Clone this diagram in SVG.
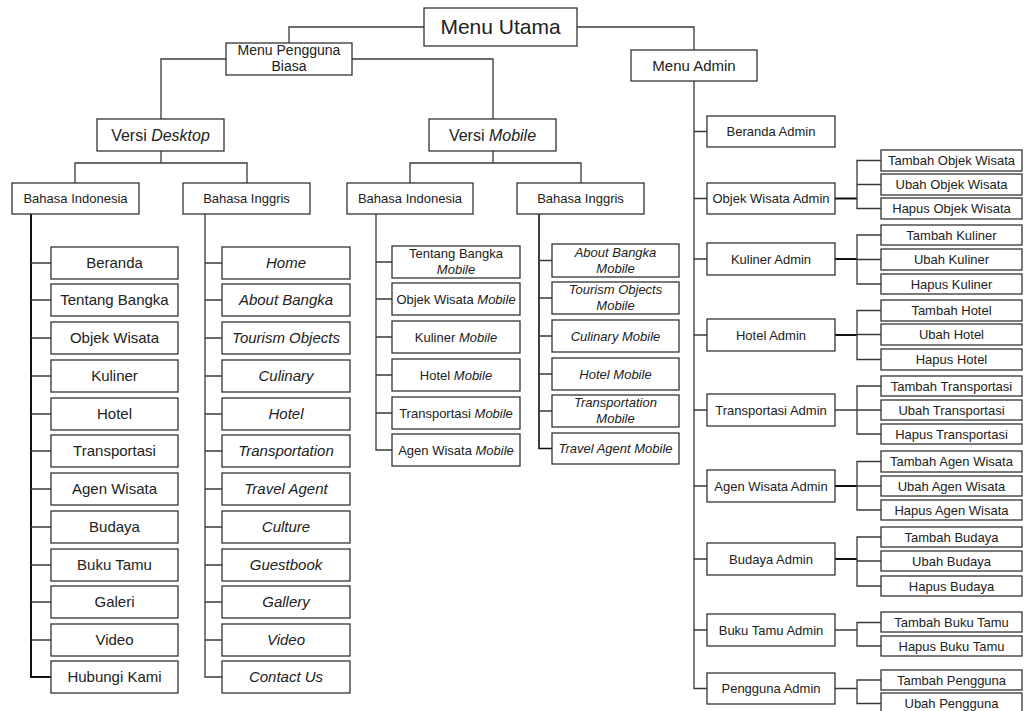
<svg xmlns="http://www.w3.org/2000/svg" width="1025" height="711" viewBox="0 0 1025 711">
<style>
.b{fill:#fff;stroke:#333;stroke-width:1.3}
.t{font-family:"Liberation Sans",Arial,sans-serif;fill:#222;text-anchor:middle}
.i{font-style:italic}
.f21{font-size:21px}.f16{font-size:16px}.f15{font-size:15px}.f14{font-size:14px}.f13{font-size:13px}
.c{fill:none;stroke:#3a3a3a;stroke-width:1.3}
.k{fill:none;stroke:#111;stroke-width:2}
</style>
<rect width="1025" height="711" fill="#fff"/>
<g id="connectors">
<polyline class="c" points="424,27 289,27 289,43"/>
<polyline class="c" points="577,27 694,27 694,50"/>
<polyline class="c" points="226,59 161,59 161,119"/>
<polyline class="c" points="352,59 493,59 493,119"/>
<polyline class="c" points="161,151 161,163"/>
<polyline class="c" points="75,183 75,163 247,163 247,183"/>
<polyline class="c" points="493,151 493,163"/>
<polyline class="c" points="410,183 410,163 581,163 581,183"/>
<!-- desktop indonesia -->
<polyline class="k" points="31,214 31,677 51,677"/>
<path class="c" d="M31,263H51M31,300H51M31,338H51M31,376H51M31,414H51M31,451H51M31,489H51M31,527H51M31,565H51M31,602H51M31,640H51"/>
<!-- desktop english -->
<polyline class="c" points="205,214 205,677 222,677"/>
<path class="c" d="M205,263H222M205,300H222M205,338H222M205,376H222M205,414H222M205,451H222M205,489H222M205,527H222M205,565H222M205,602H222M205,640H222"/>
<!-- mobile indonesia -->
<polyline class="c" points="376,214 376,450 392,450"/>
<path class="c" d="M376,262H392M376,299H392M376,337H392M376,375H392M376,413H392"/>
<!-- mobile english -->
<polyline class="k" points="539,214 539,448.5 552,448.5" style="stroke-width:1.6"/>
<path class="c" d="M539,260.5H552M539,298H552M539,336H552M539,374H552M539,411H552"/>
<!-- admin -->
<polyline class="c" points="694,81 694,688.5 707,688.5"/>
<path class="c" d="M694,131.5H707M694,198.5H707M694,259H707M694,335H707M694,410H707M694,486H707M694,559H707M694,630H707"/>
<path class="k" d="M835,198.5H857M835,259H857M835,335H857M835,486H857M835,559H857"/>
<path class="c" d="M835,410H857M835,630H857M835,688.5H857"/>
<path class="c" d="M881,160.5H857V208.5H881M857,184.5H881"/>
<path class="c" d="M881,235H857V284H881M857,259.5H881"/>
<path class="c" d="M881,310.5H857V359.5H881M857,334.5H881"/>
<path class="c" d="M881,386H857V434H881M857,410H881"/>
<path class="c" d="M881,461.5H857V510H881M857,486H881"/>
<path class="c" d="M881,537H857V586H881M857,561H881"/>
<path class="c" d="M881,622.5H857V646H881"/>
<path class="c" d="M881,680H857V703.5H881"/>
</g>
<g id="menu-utama"><rect class="b" x="424" y="8" width="153" height="38"/><text class="t f21" x="500.5" y="34">Menu Utama</text></g>
<g id="menu-pengguna-biasa"><rect class="b" x="226" y="43" width="126" height="32"/><text class="t f14" x="289" y="55">Menu Pengguna</text><text class="t f14" x="289" y="71">Biasa</text></g>
<g id="menu-admin"><rect class="b" x="631" y="50" width="126" height="31"/><text class="t f15" x="694" y="71">Menu Admin</text></g>
<g id="versi-desktop"><rect class="b" x="97" y="119" width="127" height="32"/><text class="t f16" x="160.5" y="141">Versi <tspan class="i">Desktop</tspan></text></g>
<g id="versi-mobile"><rect class="b" x="429" y="119" width="127" height="32"/><text class="t f16" x="492.5" y="141">Versi <tspan class="i">Mobile</tspan></text></g>
<g id="d-indo"><rect class="b" x="12" y="183" width="127" height="31"/><text class="t f13" x="75.5" y="203">Bahasa Indonesia</text></g>
<g id="d-ing"><rect class="b" x="183" y="183" width="127" height="31"/><text class="t f13" x="246.5" y="203">Bahasa Inggris</text></g>
<g id="m-indo"><rect class="b" x="347" y="183" width="126" height="31"/><text class="t f13" x="410" y="203">Bahasa Indonesia</text></g>
<g id="m-ing"><rect class="b" x="517" y="183" width="127" height="31"/><text class="t f13" x="580.5" y="203">Bahasa Inggris</text></g>

<g id="di-beranda"><rect class="b" x="51" y="247" width="127" height="32"/><text class="t f15" x="114.5" y="268">Beranda</text></g>
<g id="di-tentang"><rect class="b" x="51" y="284" width="127" height="32"/><text class="t f15" x="114.5" y="305">Tentang Bangka</text></g>
<g id="di-objek"><rect class="b" x="51" y="322" width="127" height="32"/><text class="t f15" x="114.5" y="343">Objek Wisata</text></g>
<g id="di-kuliner"><rect class="b" x="51" y="360" width="127" height="32"/><text class="t f15" x="114.5" y="381">Kuliner</text></g>
<g id="di-hotel"><rect class="b" x="51" y="398" width="127" height="32"/><text class="t f15" x="114.5" y="419">Hotel</text></g>
<g id="di-transportasi"><rect class="b" x="51" y="435" width="127" height="32"/><text class="t f15" x="114.5" y="456">Transportasi</text></g>
<g id="di-agen"><rect class="b" x="51" y="473" width="127" height="32"/><text class="t f15" x="114.5" y="494">Agen Wisata</text></g>
<g id="di-budaya"><rect class="b" x="51" y="511" width="127" height="32"/><text class="t f15" x="114.5" y="532">Budaya</text></g>
<g id="di-bukutamu"><rect class="b" x="51" y="549" width="127" height="32"/><text class="t f15" x="114.5" y="570">Buku Tamu</text></g>
<g id="di-galeri"><rect class="b" x="51" y="586" width="127" height="32"/><text class="t f15" x="114.5" y="607">Galeri</text></g>
<g id="di-video"><rect class="b" x="51" y="624" width="127" height="32"/><text class="t f15" x="114.5" y="645">Video</text></g>
<g id="di-hubungi"><rect class="b" x="51" y="661" width="127" height="32"/><text class="t f15" x="114.5" y="682">Hubungi Kami</text></g>

<g id="de-home"><rect class="b" x="222" y="247" width="128" height="32"/><text class="t f15 i" x="286" y="268">Home</text></g>
<g id="de-about"><rect class="b" x="222" y="284" width="128" height="32"/><text class="t f15 i" x="286" y="305">About Bangka</text></g>
<g id="de-tourism"><rect class="b" x="222" y="322" width="128" height="32"/><text class="t f15 i" x="286" y="343">Tourism Objects</text></g>
<g id="de-culinary"><rect class="b" x="222" y="360" width="128" height="32"/><text class="t f15 i" x="286" y="381">Culinary</text></g>
<g id="de-hotel"><rect class="b" x="222" y="398" width="128" height="32"/><text class="t f15 i" x="286" y="419">Hotel</text></g>
<g id="de-transportation"><rect class="b" x="222" y="435" width="128" height="32"/><text class="t f15 i" x="286" y="456">Transportation</text></g>
<g id="de-travel"><rect class="b" x="222" y="473" width="128" height="32"/><text class="t f15 i" x="286" y="494">Travel Agent</text></g>
<g id="de-culture"><rect class="b" x="222" y="511" width="128" height="32"/><text class="t f15 i" x="286" y="532">Culture</text></g>
<g id="de-guestbook"><rect class="b" x="222" y="549" width="128" height="32"/><text class="t f15 i" x="286" y="570">Guestbook</text></g>
<g id="de-gallery"><rect class="b" x="222" y="586" width="128" height="32"/><text class="t f15 i" x="286" y="607">Gallery</text></g>
<g id="de-video"><rect class="b" x="222" y="624" width="128" height="32"/><text class="t f15 i" x="286" y="645">Video</text></g>
<g id="de-contact"><rect class="b" x="222" y="661" width="128" height="32"/><text class="t f15 i" x="286" y="682">Contact Us</text></g>

<g id="mi-tentang"><rect class="b" x="392" y="246" width="128" height="32"/><text class="t f13" x="456" y="258">Tentang Bangka</text><text class="t f13 i" x="456" y="274">Mobile</text></g>
<g id="mi-objek"><rect class="b" x="392" y="283" width="128" height="32"/><text class="t f13" x="456" y="303.5">Objek Wisata <tspan class="i">Mobile</tspan></text></g>
<g id="mi-kuliner"><rect class="b" x="392" y="321" width="128" height="32"/><text class="t f13" x="456" y="341.5">Kuliner <tspan class="i">Mobile</tspan></text></g>
<g id="mi-hotel"><rect class="b" x="392" y="359" width="128" height="32"/><text class="t f13" x="456" y="379.5">Hotel <tspan class="i">Mobile</tspan></text></g>
<g id="mi-transportasi"><rect class="b" x="392" y="397" width="128" height="32"/><text class="t f13" x="456" y="417.5">Transportasi <tspan class="i">Mobile</tspan></text></g>
<g id="mi-agen"><rect class="b" x="392" y="434" width="128" height="32"/><text class="t f13" x="456" y="454.5">Agen Wisata <tspan class="i">Mobile</tspan></text></g>

<g id="me-about"><rect class="b" x="552" y="244" width="127" height="33"/><text class="t f13 i" x="615.5" y="256.5">About Bangka</text><text class="t f13 i" x="615.5" y="272.5">Mobile</text></g>
<g id="me-tourism"><rect class="b" x="552" y="282" width="127" height="32"/><text class="t f13 i" x="615.5" y="293.5">Tourism Objects</text><text class="t f13 i" x="615.5" y="309.5">Mobile</text></g>
<g id="me-culinary"><rect class="b" x="552" y="320" width="127" height="32"/><text class="t f13 i" x="615.5" y="340.5">Culinary Mobile</text></g>
<g id="me-hotel"><rect class="b" x="552" y="358" width="127" height="32"/><text class="t f13 i" x="615.5" y="378.5">Hotel Mobile</text></g>
<g id="me-transportation"><rect class="b" x="552" y="395" width="127" height="32"/><text class="t f13 i" x="615.5" y="406.5">Transportation</text><text class="t f13 i" x="615.5" y="422.5">Mobile</text></g>
<g id="me-travel"><rect class="b" x="552" y="433" width="127" height="31"/><text class="t f13 i" x="615.5" y="453">Travel Agent Mobile</text></g>

<g id="a-beranda"><rect class="b" x="707" y="116" width="128" height="31"/><text class="t f13" x="771" y="136">Beranda Admin</text></g>
<g id="a-objek"><rect class="b" x="707" y="183" width="128" height="31"/><text class="t f13" x="771" y="203">Objek Wisata Admin</text></g>
<g id="a-kuliner"><rect class="b" x="707" y="243" width="128" height="32"/><text class="t f13" x="771" y="263.5">Kuliner Admin</text></g>
<g id="a-hotel"><rect class="b" x="707" y="319" width="128" height="32"/><text class="t f13" x="771" y="339.5">Hotel Admin</text></g>
<g id="a-transportasi"><rect class="b" x="707" y="394" width="128" height="32"/><text class="t f13" x="771" y="414.5">Transportasi Admin</text></g>
<g id="a-agen"><rect class="b" x="707" y="470" width="128" height="32"/><text class="t f13" x="771" y="490.5">Agen Wisata Admin</text></g>
<g id="a-budaya"><rect class="b" x="707" y="543" width="128" height="32"/><text class="t f13" x="771" y="563.5">Budaya Admin</text></g>
<g id="a-bukutamu"><rect class="b" x="707" y="614" width="128" height="32"/><text class="t f13" x="771" y="634.5">Buku Tamu Admin</text></g>
<g id="a-pengguna"><rect class="b" x="707" y="673" width="128" height="31"/><text class="t f13" x="771" y="693">Pengguna Admin</text></g>

<g id="s-tambah-objek"><rect class="b" x="881" y="150" width="141" height="21"/><text class="t f13" x="951.5" y="165">Tambah Objek Wisata</text></g>
<g id="s-ubah-objek"><rect class="b" x="881" y="174" width="141" height="21"/><text class="t f13" x="951.5" y="189">Ubah Objek Wisata</text></g>
<g id="s-hapus-objek"><rect class="b" x="881" y="198" width="141" height="21"/><text class="t f13" x="951.5" y="213">Hapus Objek Wisata</text></g>
<g id="s-tambah-kuliner"><rect class="b" x="881" y="225" width="141" height="20"/><text class="t f13" x="951.5" y="239.5">Tambah Kuliner</text></g>
<g id="s-ubah-kuliner"><rect class="b" x="881" y="249" width="141" height="21"/><text class="t f13" x="951.5" y="264">Ubah Kuliner</text></g>
<g id="s-hapus-kuliner"><rect class="b" x="881" y="274" width="141" height="20"/><text class="t f13" x="951.5" y="288.5">Hapus Kuliner</text></g>
<g id="s-tambah-hotel"><rect class="b" x="881" y="300" width="141" height="21"/><text class="t f13" x="951.5" y="315">Tambah Hotel</text></g>
<g id="s-ubah-hotel"><rect class="b" x="881" y="324" width="141" height="21"/><text class="t f13" x="951.5" y="339">Ubah Hotel</text></g>
<g id="s-hapus-hotel"><rect class="b" x="881" y="349" width="141" height="21"/><text class="t f13" x="951.5" y="364">Hapus Hotel</text></g>
<g id="s-tambah-transportasi"><rect class="b" x="881" y="376" width="141" height="20"/><text class="t f13" x="951.5" y="390.5">Tambah Transportasi</text></g>
<g id="s-ubah-transportasi"><rect class="b" x="881" y="400" width="141" height="20"/><text class="t f13" x="951.5" y="414.5">Ubah Transportasi</text></g>
<g id="s-hapus-transportasi"><rect class="b" x="881" y="424" width="141" height="20"/><text class="t f13" x="951.5" y="438.5">Hapus Transportasi</text></g>
<g id="s-tambah-agen"><rect class="b" x="881" y="451" width="141" height="21"/><text class="t f13" x="951.5" y="466">Tambah Agen Wisata</text></g>
<g id="s-ubah-agen"><rect class="b" x="881" y="476" width="141" height="20"/><text class="t f13" x="951.5" y="490.5">Ubah Agen Wisata</text></g>
<g id="s-hapus-agen"><rect class="b" x="881" y="500" width="141" height="20"/><text class="t f13" x="951.5" y="514.5">Hapus Agen Wisata</text></g>
<g id="s-tambah-budaya"><rect class="b" x="881" y="527" width="141" height="20"/><text class="t f13" x="951.5" y="541.5">Tambah Budaya</text></g>
<g id="s-ubah-budaya"><rect class="b" x="881" y="551" width="141" height="20"/><text class="t f13" x="951.5" y="565.5">Ubah Budaya</text></g>
<g id="s-hapus-budaya"><rect class="b" x="881" y="576" width="141" height="20"/><text class="t f13" x="951.5" y="590.5">Hapus Budaya</text></g>
<g id="s-tambah-bukutamu"><rect class="b" x="881" y="612" width="141" height="20"/><text class="t f13" x="951.5" y="626.5">Tambah Buku Tamu</text></g>
<g id="s-hapus-bukutamu"><rect class="b" x="881" y="636" width="141" height="20"/><text class="t f13" x="951.5" y="650.5">Hapus Buku Tamu</text></g>
<g id="s-tambah-pengguna"><rect class="b" x="881" y="670" width="141" height="20"/><text class="t f13" x="951.5" y="684.5">Tambah Pengguna</text></g>
<g id="s-ubah-pengguna"><rect class="b" x="881" y="693" width="141" height="21"/><text class="t f13" x="951.5" y="708">Ubah Pengguna</text></g>
</svg>
